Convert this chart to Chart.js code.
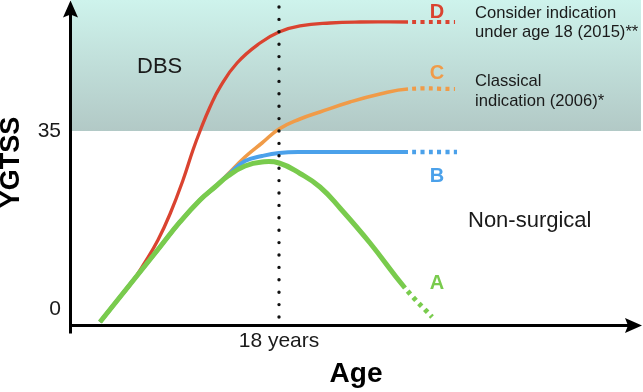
<!DOCTYPE html>
<html><head><meta charset="utf-8">
<script src="https://cdn.jsdelivr.net/npm/chart.js@4"></script>
<style>html,body{margin:0;padding:0;background:#fff;overflow:hidden}#wrap{width:643px;height:392px;position:relative}canvas{display:block}</style>
</head><body><div id="wrap"><canvas id="c" width="643" height="392" style="width:643px;height:392px"></canvas></div>
<script>
// ---- data (age in years, YGTSS score) ----
const ageA   = [0, 2.01, 4.02, 6.03, 8.04, 10.06, 11.56, 12.87, 14.58, 16.29, 18.0, 20.11, 22.12, 24.13, 27.15, 30.67, 33.39];
const ygtssA = [-2.56, 2.36, 7.28, 12.19, 17.11, 21.43, 23.99, 26.15, 28.12, 28.90, 28.71, 26.64, 23.99, 19.86, 12.98, 4.13, -1.57];
const ageB   = [0, 2.01, 4.02, 6.03, 8.04, 10.06, 11.56, 12.87, 14.58, 16.29, 18.0, 20.61, 24.13, 30.97, 35.90];
const ygtssB = [-2.56, 2.36, 7.28, 12.19, 17.11, 21.43, 23.99, 26.35, 29.1, 30.08, 30.67, 30.87, 30.87, 30.87, 30.87];
const ageC   = [0, 2.01, 4.02, 6.03, 8.04, 10.06, 11.56, 12.87, 14.58, 16.29, 18.0, 20.11, 22.12, 25.14, 28.16, 30.97, 35.70];
const ygtssC = [-2.56, 2.36, 7.28, 12.19, 17.11, 21.43, 23.99, 26.54, 29.89, 32.64, 35.39, 37.36, 38.74, 40.70, 42.28, 43.26, 43.26];
const ageD   = [0, 1.51, 3.02, 4.53, 5.83, 7.04, 8.35, 9.35, 10.06, 11.06, 12.07, 13.78, 16.09, 18.0, 20.11, 23.13, 26.15, 30.97, 35.70];
const ygtssD = [-2.56, 1.18, 4.72, 9.24, 13.57, 18.68, 25.36, 31.26, 35.0, 39.72, 43.65, 48.37, 52.30, 54.47, 55.65, 56.24, 56.43, 56.43, 56.43];
const curveNames = ['A', 'B', 'C', 'D'];
const dbsThreshold = 35;
const ageMark = 18;
const markLineRange = [-1.57, 59.4];
const yTickValues = [0, 35];
const yTickLabels = ['0', '35'];
const xTickValues = [18];
const xTickLabels = ['18 years'];
const xRange = [-2.916, 54.40];
const yRange = [-3.146, 60.76];

// ---- styles ----
const FONT = "'Liberation Sans', Arial, Helvetica, sans-serif";
const colors = { A: '#79cb4d', B: '#4ba1ea', C: '#f09b48', D: '#da4330' };
const widths = { A: 5, B: 4, C: 3.6, D: 3.3 };
const dotWidths = { A: 5, B: 4.5, C: 4.2, D: 4.2 };

const toXY = (xs, ys) => xs.map((x, i) => ({ x, y: ys[i] }));

function curve(name, xs, ys, order) {
  const n = xs.length;
  return {
    label: name,
    data: toXY(xs, ys),
    borderColor: colors[name],
    borderWidth: widths[name],
    pointRadius: 0,
    fill: false,
    tension: 0.45,
    borderCapStyle: 'butt',
    borderJoinStyle: 'round',
    order,
    segment: {
      borderDash: ctx => ctx.p1DataIndex === n - 1 ? [4, 4.4] : undefined,
      borderDashOffset: ctx => ctx.p1DataIndex === n - 1 ? 4.4 : undefined,
      borderWidth: ctx => ctx.p1DataIndex === n - 1 ? dotWidths[name] : undefined
    }
  };
}

const shade = {
  label: 'DBS zone',
  data: [{ x: xRange[0], y: dbsThreshold }, { x: xRange[1], y: dbsThreshold }],
  borderWidth: 0,
  pointRadius: 0,
  fill: 'end',
  order: 10,
  backgroundColor: (ctx) => {
    const chart = ctx.chart;
    const a = chart.chartArea;
    if (!a) return '#c0dcd8';
    const yb = chart.scales.y.getPixelForValue(dbsThreshold);
    const g = chart.ctx.createLinearGradient(0, a.top, 0, yb);
    g.addColorStop(0, 'rgb(206,243,236)');
    g.addColorStop(1, 'rgb(178,201,198)');
    return g;
  }
};

const markLine = {
  label: '18 years',
  data: [{ x: ageMark, y: markLineRange[0] }, { x: ageMark, y: markLineRange[1] }],
  borderColor: '#111',
  borderWidth: 3.4,
  borderDash: [0, 12.4],
  borderCapStyle: 'round',
  pointRadius: 0,
  tension: 0,
  fill: false,
  order: 0
};

const texts = [
  { t: 'DBS', x: 137, y: 73, f: '22px', c: '#1a1a1a', a: 'left' },
  { t: 'Non-surgical', x: 468, y: 227, f: '22px', c: '#1a1a1a', a: 'left' },
  { t: 'Consider indication', x: 475, y: 18, f: '16.6px', c: '#1a1a1a', a: 'left' },
  { t: 'under age 18 (2015)**', x: 475, y: 37, f: '16.6px', c: '#1a1a1a', a: 'left' },
  { t: 'Classical', x: 475, y: 86, f: '16.6px', c: '#1a1a1a', a: 'left' },
  { t: 'indication (2006)*', x: 475, y: 106, f: '16.6px', c: '#1a1a1a', a: 'left' },
  { t: 'D', x: 437, y: 18, f: 'bold 20px', c: colors.D, a: 'center' },
  { t: 'C', x: 437, y: 79, f: 'bold 20px', c: colors.C, a: 'center' },
  { t: 'B', x: 437, y: 182, f: 'bold 20px', c: colors.B, a: 'center' },
  { t: 'A', x: 437, y: 289, f: 'bold 20px', c: colors.A, a: 'center' }
];

const decor = {
  id: 'decor',
  afterDraw(chart) {
    const { ctx, chartArea: a } = chart;
    ctx.save();
    ctx.strokeStyle = '#000';
    ctx.fillStyle = '#000';
    ctx.lineWidth = 3;
    const ax = a.left - 0.5, ay = a.bottom + 0.5;
    ctx.beginPath(); ctx.moveTo(ax, ay + 8); ctx.lineTo(ax, a.top + 12); ctx.stroke();
    ctx.beginPath(); ctx.moveTo(ax - 1.5, ay); ctx.lineTo(a.right - 12, ay); ctx.stroke();
    // top arrow
    const tipY = a.top + 0.5;
    ctx.beginPath();
    ctx.moveTo(ax, tipY);
    ctx.lineTo(ax + 7.5, tipY + 17);
    ctx.lineTo(ax, tipY + 14);
    ctx.lineTo(ax - 7.5, tipY + 17);
    ctx.closePath(); ctx.fill();
    // right arrow
    const tipX = a.right + 1;
    ctx.beginPath();
    ctx.moveTo(tipX, ay);
    ctx.lineTo(tipX - 17, ay - 7.5);
    ctx.lineTo(tipX - 14, ay);
    ctx.lineTo(tipX - 17, ay + 7.5);
    ctx.closePath(); ctx.fill();
    // annotation texts
    ctx.textBaseline = 'alphabetic';
    texts.forEach(o => {
      ctx.font = o.f + ' ' + FONT;
      ctx.fillStyle = o.c;
      ctx.textAlign = o.a;
      ctx.fillText(o.t, o.x, o.y);
    });
    ctx.restore();
  }
};

Chart.defaults.font.family = FONT;
Chart.defaults.color = '#1a1a1a';

new Chart(document.getElementById('c'), {
  type: 'line',
  data: {
    datasets: [
      curve('A', ageA, ygtssA, 1),
      curve('B', ageB, ygtssB, 2),
      curve('C', ageC, ygtssC, 3),
      curve('D', ageD, ygtssD, 4),
      markLine,
      shade
    ]
  },
  options: {
    responsive: false,
    animation: false,
    devicePixelRatio: 1,
    layout: { padding: { top: 0, left: 0, right: 2, bottom: 0 } },
    plugins: { legend: { display: false }, tooltip: { enabled: false } },
    scales: {
      x: {
        type: 'linear',
        min: xRange[0], max: xRange[1],
        grid: { display: false, drawTicks: false },
        border: { display: false },
        afterBuildTicks: s => { s.ticks = xTickValues.map(v => ({ value: v })); },
        ticks: {
          autoSkip: false, maxRotation: 0, padding: 4,
          font: { size: 21 }, color: '#1a1a1a',
          callback: (v) => xTickLabels[xTickValues.indexOf(v)] ?? ''
        },
        title: { display: true, text: 'Age', font: { size: 28, weight: 'bold', lineHeight: '36px' }, padding: 0, color: '#000' },
        afterFit: s => { s.height = 67; s.paddingLeft = 0; s.paddingRight = 0; }
      },
      y: {
        type: 'linear',
        min: yRange[0], max: yRange[1],
        grid: { display: false, drawTicks: false },
        border: { display: false },
        afterBuildTicks: s => { s.ticks = yTickValues.map(v => ({ value: v })); },
        ticks: {
          autoSkip: false, padding: 10,
          font: { size: 21 }, color: '#1a1a1a',
          callback: (v) => yTickLabels[yTickValues.indexOf(v)] ?? ''
        },
        title: { display: true, text: 'YGTSS', font: { size: 27, weight: 'bold', lineHeight: '24px' }, padding: 0, color: '#000' },
        afterFit: s => { s.width = 71; s.paddingTop = 0; s.paddingBottom = 0; }
      }
    }
  },
  plugins: [decor]
});
</script></body></html>
